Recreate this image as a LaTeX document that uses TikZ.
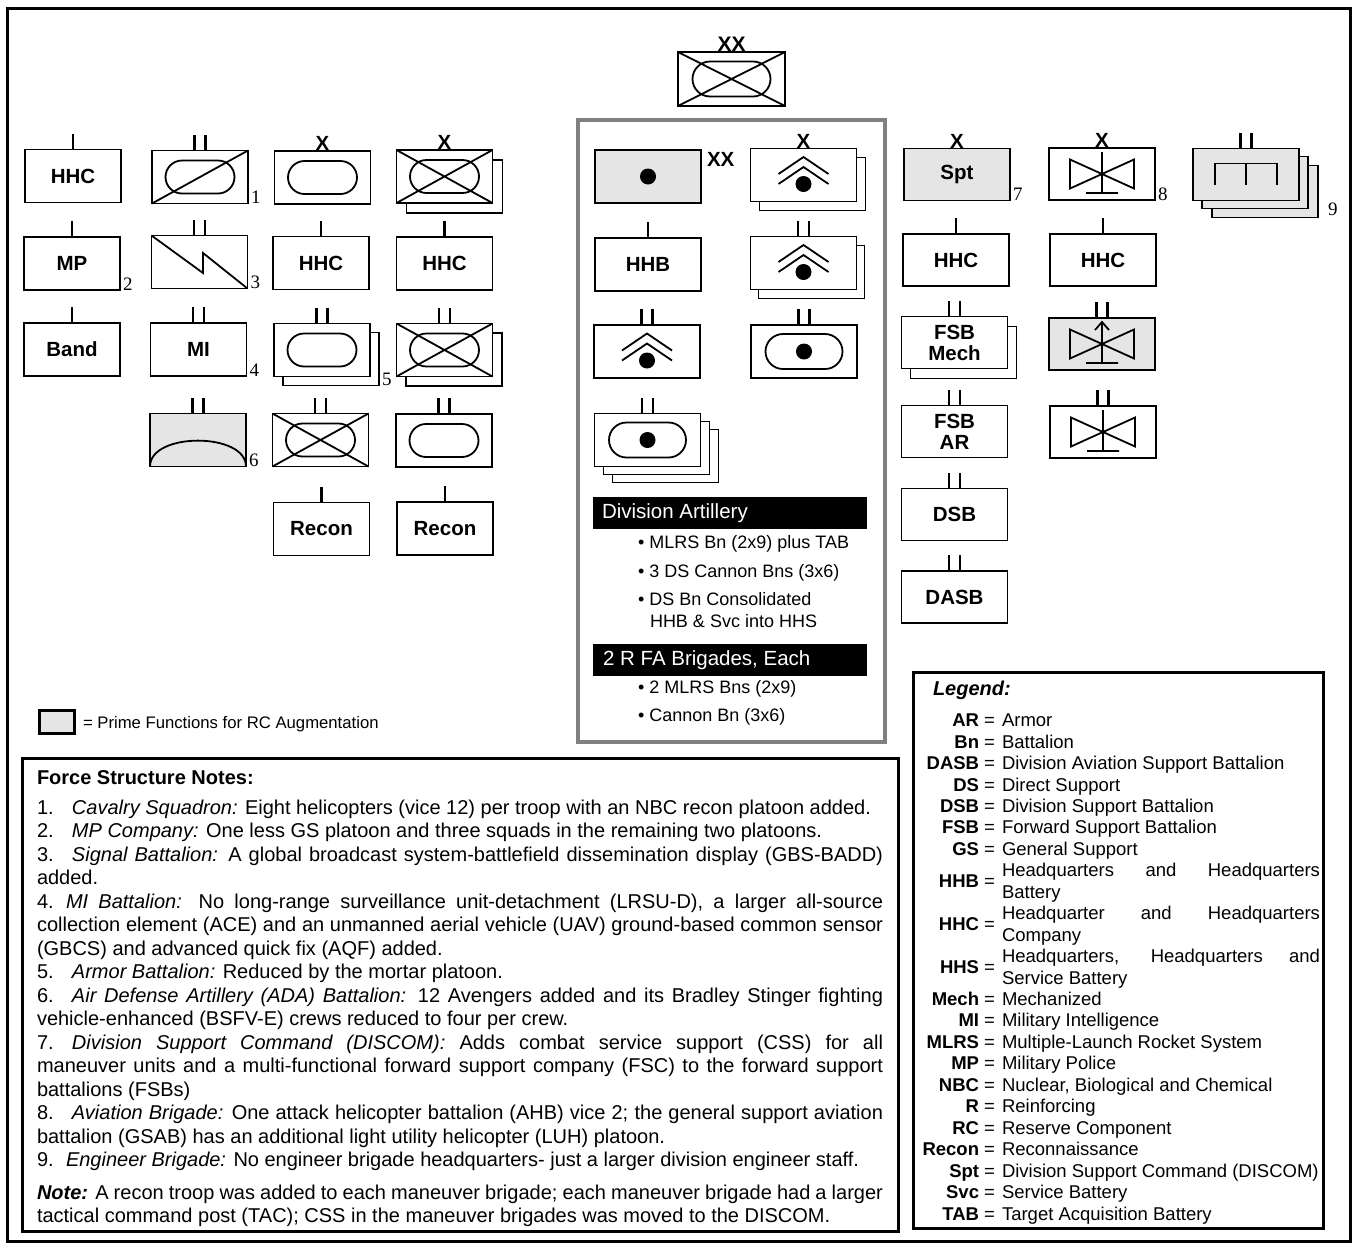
\documentclass[tikz,border=0pt]{standalone}
\usepackage{fontspec}
\setmainfont{Liberation Sans}
\newfontfamily\numfont{Liberation Serif}
\definecolor{boxgray}{gray}{0.9}
\definecolor{framegray}{gray}{0.5}
\newcommand\EchI[1]{\draw[ech] (#1.north) -- ++(0,-16);}
\newcommand\EchII[1]{\draw[ech] ([xshift=-5.5pt]#1.north) -- ++(0,-16) ([xshift=5.5pt]#1.north) -- ++(0,-16);}
\newcommand\EchX[3]{\node[echx] (#1) at ([yshift=0.5pt]#2.north) {#3};}
\newcommand\SymOval[3]{\begin{scope}[shift={(#1.center)}]\draw[sym, rounded corners=#3pt] (-#2,-#3) rectangle (#2,#3);\end{scope}}
\newcommand\SymX[1]{\draw[sym] (#1.north west) -- (#1.south east) (#1.south west) -- (#1.north east);}
\newcommand\SymDiag[1]{\draw[sym] (#1.south west) -- (#1.north east);}
\newcommand\SymDot[1]{\fill (#1.center) circle (8pt);}
\newcommand\SymArty[1]{\begin{scope}[shift={(#1.center)}]\draw[sym] (-25,-1) -- (0,-18) -- (25,-1) (-25,9) -- (0,-8) -- (25,9);\fill (0,9) circle (8pt);\end{scope}}
\newcommand\SymAvn[1]{\begin{scope}[shift={(#1.center)}]\draw[sym] (-32,-14.5) -- (32,14.5) -- (32,-14.5) -- (-32,14.5) -- cycle (0,-22) -- (0,19) (-16,19) -- (16,19);\end{scope}}
\newcommand\SymAtk[1]{\begin{scope}[shift={(#1.center)}]\draw[sym] (-32,-14.5) -- (32,14.5) -- (32,-14.5) -- (-32,14.5) -- cycle (0,-22) -- (0,19) (-16,19) -- (16,19) (-7,-14) -- (0,-22) -- (7,-14);\end{scope}}
\newcommand\SymEng[1]{\begin{scope}[shift={(#1.center)}]\draw[sym] (-31,10) -- (-31,-11) -- (31,-11) -- (31,10) (0,-11) -- (0,10);\end{scope}}
\newcommand\SymSig[1]{\draw[sym] (#1.north west) -- ([xshift=3.5pt,yshift=-11pt]#1.center) -- ([xshift=3.5pt,yshift=9pt]#1.center) -- (#1.south east);}
\newcommand\SymADA[1]{\begin{scope}[shift={(#1.center)}]\draw[sym] (-48,26.5) .. controls (-48,-8) and (48,-8) .. (48,26.5);\end{scope}}
\newcommand\LegA[4]{\node[lgf, anchor=mid east] (#1a) at (995,{724+21.45*#2}) {\textbf{#3} =};
  \node[lgf, anchor=mid west] (#1b) at (1002,{724+21.45*#2}) {#4};}
\newcommand\LegB[5]{\node[lgf, anchor=mid east] (#1a) at (995,{724+21.45*(#2+0.5)}) {\textbf{#3} =};
  \node[lgf, anchor=mid west] (#1b) at (1002,{724+21.45*#2}) {\makebox[318pt][s]{#4}};
  \node[lgf, anchor=mid west] (#1c) at (1002,{724+21.45*(#2+1)}) {#5};}
\begin{document}
\begin{tikzpicture}[x=1pt,y=-1pt,
  every node/.style={inner sep=0pt, outer sep=0pt},
  ubox/.style={draw, line width=1.8pt, fill=white, minimum width=96pt, minimum height=53pt, font=\fontsize{20.5}{21}\selectfont\bfseries, align=center},
  abox/.style={ubox, minimum width=106pt},
  rbox/.style={ubox, minimum width=106pt, minimum height=52pt},
  sym/.style={line width=1.8pt},
  ech/.style={line width=2.8pt},
  echx/.style={font=\fontsize{20.5}{20}\selectfont\bfseries, anchor=south},
  notenum/.style={font=\numfont\fontsize{19}{19}\selectfont, anchor=base west},
  bartext/.style={font=\fontsize{20.5}{21}\selectfont, text=white, anchor=mid west},
  bul/.style={font=\fontsize{18}{18}\selectfont, anchor=mid west},
  lgf/.style={font=\fontsize{18.5}{19}\selectfont},
]
\fill[white] (0,0) rectangle (1353,1243);
\useasboundingbox (0,0) rectangle (1353,1243);
\draw[line width=3pt] (7,8) rectangle (1350,1241);

% ---------- top division ----------
\node[ubox, minimum width=107pt, minimum height=54pt] (div) at (731.5,79) {};
\SymOval{div}{39}{17.5} \SymX{div}
\node[echx, font=\fontsize{21}{21}\selectfont\bfseries] (divx) at ([yshift=0.5pt]div.north) {XX};

% ---------- column 1 ----------
\node[ubox] (c1a) at (73,176) {HHC}; \EchI{c1a}
\node[ubox] (c1b) at (72,263.5) {MP}; \EchI{c1b}
\node[ubox] (c1c) at (72,349.5) {Band}; \EchI{c1c}
\node[notenum] (n2) at ([xshift=3pt]c1b.south east) {2};

% ---------- column 2 ----------
\node[ubox] (c2a) at (200,177) {}; \SymOval{c2a}{34.5}{16.5} \SymDiag{c2a} \EchII{c2a}
\node[ubox] (c2b) at (199.5,262) {}; \SymSig{c2b} \EchII{c2b}
\node[ubox] (c2c) at (198.5,349.5) {MI}; \EchII{c2c}
\node[ubox, fill=boxgray] (c2d) at (198,440) {}; \SymADA{c2d} \EchII{c2d}
\node[notenum] (n1) at ([xshift=3pt]c2a.south east) {1};
\node[notenum] (n3) at ([xshift=3pt]c2b.south east) {3};
\node[notenum] (n4) at ([xshift=3pt]c2c.south east) {4};
\node[notenum] (n6) at ([xshift=3pt]c2d.south east) {6};

% ---------- column 3 ----------
\node[ubox] (c3a) at (322.5,177.5) {}; \SymOval{c3a}{34.5}{16.5} \EchX{c3ax}{c3a}{X}
\node[ubox] (c3b) at (321,263) {HHC}; \EchI{c3b}
\node[ubox] (c3c-b) at (331,359) {};
\node[ubox] (c3c) at (322,350) {}; \SymOval{c3c}{34.5}{16.5} \EchII{c3c}
\node[notenum] (n5) at ([xshift=3pt]c3c-b.south east) {5};
\node[ubox] (c3d) at (320.5,440) {}; \SymOval{c3d}{34.5}{16.5} \SymX{c3d} \EchII{c3d}
\node[ubox] (c3e) at (321.5,529) {Recon}; \EchI{c3e}

% ---------- column 4 ----------
\node[ubox] (c4a-b) at (454.5,186.5) {};
\node[ubox] (c4a) at (444.5,176.5) {}; \SymOval{c4a}{34.5}{16.5} \SymX{c4a} \EchX{c4ax}{c4a}{X}
\node[ubox] (c4b) at (444.5,263.5) {HHC}; \EchI{c4b}
\node[ubox] (c4c-b) at (454,359.5) {};
\node[ubox] (c4c) at (444.5,350) {}; \SymOval{c4c}{34.5}{16.5} \SymX{c4c} \EchII{c4c}
\node[ubox] (c4d) at (444,440.5) {}; \SymOval{c4d}{34.5}{16.5} \EchII{c4d}
\node[ubox] (c4e) at (445,528.5) {Recon}; \EchI{c4e}

% ---------- division artillery ----------
\draw[framegray, line width=3.5pt] (578,120) rectangle (885,742);
\node[abox, fill=boxgray] (a1) at (648,176.5) {}; \SymDot{a1}
\node[echx, anchor=north west] (a1x) at ([xshift=6pt,yshift=-2pt]a1.north east) {XX};
\node[abox] (a2-b) at (812.5,184) {};
\node[abox] (a2) at (803.5,175) {}; \SymArty{a2} \EchX{a2x}{a2}{X}
\node[abox] (a3) at (648,264.5) {HHB}; \EchI{a3}
\node[abox] (a4-b) at (811.5,272) {};
\node[abox] (a4) at (803.5,263) {}; \SymArty{a4} \EchII{a4}
\node[abox] (a5) at (647,351.5) {}; \SymArty{a5} \EchII{a5}
\node[abox] (a6) at (804,351.5) {}; \SymOval{a6}{38.5}{17.5} \SymDot{a6} \EchII{a6}
\node[abox] (a7-c) at (665.5,456) {};
\node[abox] (a7-b) at (656.5,448) {};
\node[abox] (a7) at (647.5,440) {}; \SymOval{a7}{38.5}{17.5} \SymDot{a7} \EchII{a7}

\node[fill=black, minimum width=274pt, minimum height=32pt, anchor=north west] (bar1) at (593,497) {};
\node[bartext] (bar1t) at (602,516) {Division Artillery};
\node[bul] (b1) at (638,546) {\textbullet\ MLRS Bn (2x9) plus TAB};
\node[bul] (b2) at (638,575) {\textbullet\ 3 DS Cannon Bns (3x6)};
\node[bul] (b3) at (638,603) {\textbullet\ DS Bn Consolidated};
\node[bul] (b3b) at (650,625) {HHB \& Svc into HHS};
\node[fill=black, minimum width=274pt, minimum height=32pt, anchor=north west] (bar2) at (593,644) {};
\node[bartext] (bar2t) at (603,663) {2 R FA Brigades, Each};
\node[bul] (b4) at (638,691) {\textbullet\ 2 MLRS Bns (2x9)};
\node[bul] (b5) at (638,719) {\textbullet\ Cannon Bn (3x6)};

% ---------- right side ----------
\node[rbox, fill=boxgray] (r1) at (957,174.5) {Spt}; \EchX{r1x}{r1}{X}
\node[notenum] (n7) at ([xshift=3pt]r1.south east) {7};
\node[rbox] (r2) at (1102,174) {}; \SymAvn{r2} \EchX{r2x}{r2}{X}
\node[notenum] (n8) at ([xshift=3pt]r2.south east) {8};
\node[rbox, fill=boxgray] (r3-c) at (1265,191.5) {};
\node[rbox, fill=boxgray] (r3-b) at (1255,182.5) {};
\node[rbox, fill=boxgray] (r3) at (1246,174.5) {}; \SymEng{r3} \EchII{r3}
\node[notenum] (n9) at ([xshift=10pt,yshift=2pt]r3-c.south east) {9};
\node[rbox] (r4) at (956,260) {HHC}; \EchI{r4}
\node[rbox] (r5) at (1103,260) {HHC}; \EchI{r5}
\node[rbox] (r6-b) at (963.5,352.5) {};
\node[rbox] (r6) at (954.5,342.5) {FSB\\Mech}; \EchII{r6}
\node[rbox, fill=boxgray] (r7) at (1102,344) {}; \SymAtk{r7} \EchII{r7}
\node[rbox] (r8) at (954.5,431.5) {FSB\\AR}; \EchII{r8}
\node[rbox] (r9) at (1103,432) {}; \SymAvn{r9} \EchII{r9}
\node[rbox] (r10) at (954.5,514.5) {DSB}; \EchII{r10}
\node[rbox] (r11) at (954.5,597) {DASB}; \EchII{r11}

% ---------- prime functions key ----------
\node[draw, line width=2.5pt, fill=boxgray, minimum width=35pt, minimum height=23pt] (pbox) at (57,722) {};
\node[anchor=mid west, font=\fontsize{16.7}{17}\selectfont] (ptext) at (83,726) {= Prime Functions for RC Augmentation};

% ---------- notes ----------
\draw[line width=3pt] (22,758) rectangle (898,1231);
\node[anchor=base west, font=\fontsize{20}{23.5}\selectfont\bfseries] (ntitle) at (37,784) {Force Structure Notes:};
\node[anchor=base west] (nbody) at (37,814) {\parbox[t]{846pt}{\fontsize{20}{23.5}\selectfont
\hyphenpenalty=10000 \exhyphenpenalty=10000 \tolerance=9999
\makebox[35pt][l]{1.}\textit{Cavalry Squadron:} Eight helicopters (vice 12) per troop with an NBC recon platoon added.\par
\makebox[35pt][l]{2.}\textit{MP Company:} One less GS platoon and three squads in the remaining two platoons.\par
\makebox[35pt][l]{3.}\textit{Signal Battalion:} A global broadcast system-battlefield dissemination display (GBS-BADD)\linebreak added.\par
\makebox[29pt][l]{4.}\textit{MI Battalion:} No long-range surveillance unit-detachment (LRSU-D), a larger all-source\linebreak collection element (ACE) and an unmanned aerial vehicle (UAV) ground-based common sensor\linebreak (GBCS) and advanced quick fix (AQF) added.\par
\makebox[35pt][l]{5.}\textit{Armor Battalion:} Reduced by the mortar platoon.\par
\makebox[35pt][l]{6.}\textit{Air Defense Artillery (ADA) Battalion:} 12 Avengers added and its Bradley Stinger fighting\linebreak vehicle-enhanced (BSFV-E) crews reduced to four per crew.\par
\makebox[35pt][l]{7.}\textit{Division Support Command (DISCOM):} Adds combat service support (CSS) for all\linebreak maneuver units and a multi-functional forward support company (FSC) to the forward support\linebreak battalions (FSBs)\par
\makebox[35pt][l]{8.}\textit{Aviation Brigade:} One attack helicopter battalion (AHB) vice 2; the general support aviation\linebreak battalion (GSAB) has an additional light utility helicopter (LUH) platoon.\par
\makebox[29pt][l]{9.}\textit{Engineer Brigade:} No engineer brigade headquarters- just a larger division engineer staff.\par}};
\node[anchor=base west] (nnote) at (37,1199) {\parbox[t]{846pt}{\fontsize{20}{23.5}\selectfont
\hyphenpenalty=10000 \exhyphenpenalty=10000 \tolerance=9999
\textbf{\textit{Note:}} A recon troop was added to each maneuver brigade; each maneuver brigade had a larger\linebreak tactical command post (TAC); CSS in the maneuver brigades was moved to the DISCOM.\par}};

% ---------- legend ----------
\draw[line width=3pt] (913,672) rectangle (1323,1228);
\node[anchor=mid west, font=\fontsize{20}{20}\selectfont\bfseries\itshape] (lgt) at (933,693) {Legend:};
\LegA{lAR}{0}{AR}{Armor}
\LegA{lBn}{1}{Bn}{Battalion}
\LegA{lDASB}{2}{DASB}{Division Aviation Support Battalion}
\LegA{lDS}{3}{DS}{Direct Support}
\LegA{lDSB}{4}{DSB}{Division Support Battalion}
\LegA{lFSB}{5}{FSB}{Forward Support Battalion}
\LegA{lGS}{6}{GS}{General Support}
\LegB{lHHB}{7}{HHB}{Headquarters and Headquarters}{Battery}
\LegB{lHHC}{9}{HHC}{Headquarter and Headquarters}{Company}
\LegB{lHHS}{11}{HHS}{Headquarters, Headquarters and}{Service Battery}
\LegA{lMech}{13}{Mech}{Mechanized}
\LegA{lMI}{14}{MI}{Military Intelligence}
\LegA{lMLRS}{15}{MLRS}{Multiple-Launch Rocket System}
\LegA{lMP}{16}{MP}{Military Police}
\LegA{lNBC}{17}{NBC}{Nuclear, Biological and Chemical}
\LegA{lR}{18}{R}{Reinforcing}
\LegA{lRC}{19}{RC}{Reserve Component}
\LegA{lRecon}{20}{Recon}{Reconnaissance}
\LegA{lSpt}{21}{Spt}{Division Support Command (DISCOM)}
\LegA{lSvc}{22}{Svc}{Service Battery}
\LegA{lTAB}{23}{TAB}{Target Acquisition Battery}
\end{tikzpicture}
\end{document}
